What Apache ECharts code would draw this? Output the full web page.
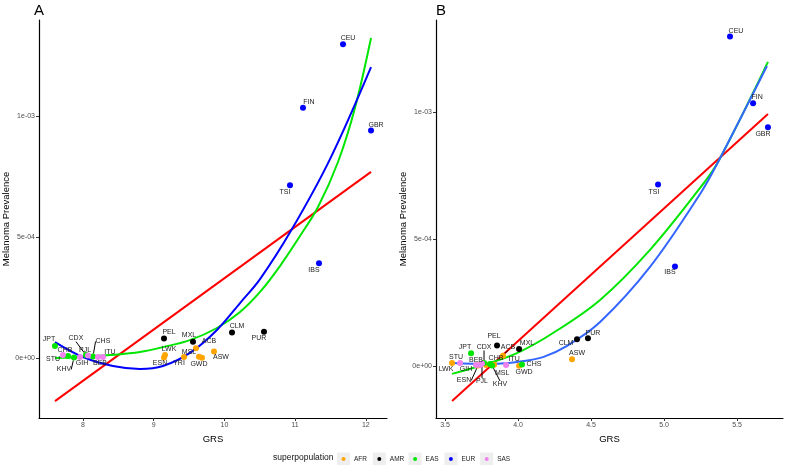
<!DOCTYPE html>
<html><head><meta charset="utf-8">
<script src="https://cdn.jsdelivr.net/npm/echarts@6/dist/echarts.min.js"></script>
<style>html,body{margin:0;padding:0;background:#fff}#c{width:787px;height:465px}</style>
</head><body><div id="c"></div>
<script>
// ---------- DATA ----------
const populations = ['ACB','ASW','ESN','GWD','LWK','MSL','YRI','CLM','MXL','PEL','PUR','CDX','CHB','CHS','JPT','KHV','CEU','FIN','GBR','IBS','TSI','BEB','GIH','ITU','PJL','STU'];
const superpop    = ['AFR','AFR','AFR','AFR','AFR','AFR','AFR','AMR','AMR','AMR','AMR','EAS','EAS','EAS','EAS','EAS','EUR','EUR','EUR','EUR','EUR','SAS','SAS','SAS','SAS','SAS'];
const prevalence  = [0.000040,0.000027,0.000002,0.000001,0.000012,0.000005,0.000004,0.000105,0.000067,0.000081,0.000109,0.000012,0.000008,0.000006,0.000050,0.000002,0.001297,0.001034,0.000940,0.000392,0.000714,0.000004,0.000004,0.000004,0.000010,0.000012];
const grsPanelA   = [9.598,9.853,9.146,9.683,9.160,9.641,9.429,10.108,9.556,9.146,10.560,8.042,7.788,8.141,7.604,7.873,11.678,11.112,12.074,11.338,10.928,8.212,7.958,8.283,8.071,7.717];
const grsPanelB   = [3.897,4.370,3.726,4.007,3.548,3.836,3.781,4.404,4.007,3.856,4.479,3.767,3.808,4.027,3.678,3.822,5.452,5.610,5.712,5.075,4.959,3.712,3.740,3.918,3.753,3.603];

const superCategories = ['AFR','AMR','EAS','EUR','SAS'];

// fitted curves
const fitA_linear_x = [7.604, 12.074];
const fitA_linear_y = [-0.000178, 0.000769];
const fitA_green_x = [7.604,8.0,8.382,8.806,9.132,9.513,9.895,10.221,10.504,10.786,11.069,11.324,11.607,11.847,12.074];
const fitA_green_y = [0.000000,0.000004,0.000012,0.000025,0.000045,0.000074,0.000124,0.000190,0.000273,0.000380,0.000504,0.000624,0.000810,0.001033,0.001322];
const fitA_blue_x = [7.604,8.0,8.424,8.806,9.132,9.513,9.895,10.221,10.504,10.956,11.494,12.074];
const fitA_blue_y = [0.000066,0.000004,-0.000033,-0.000045,-0.000033,0.000021,0.000116,0.000227,0.000326,0.000533,0.000822,0.001202];

const fitB_linear_x = [3.548, 5.712];
const fitB_linear_y = [-0.000138, 0.000992];
const fitB_green_x = [3.548,3.760,3.993,4.240,4.562,4.904,5.247,5.370,5.712];
const fitB_green_y = [-0.000031,0.000004,0.000051,0.000130,0.000260,0.000457,0.000701,0.000803,0.001197];
const fitB_blue_x = [3.548,3.788,3.993,4.171,4.336,4.562,4.904,5.247,5.363,5.705];
const fitB_blue_y = [0.000012,0.000008,0.000016,0.000035,0.000079,0.000173,0.000390,0.000677,0.000795,0.001181];

const xTicksA = [8,9,10,11,12];
const xTickLabelsA = ['8','9','10','11','12'];
const xTicksB = [3.5,4.0,4.5,5.0,5.5];
const xTickLabelsB = ['3.5','4.0','4.5','5.0','5.5'];
const yTicks = [0, 0.0005, 0.001];
const yTickLabels = ['0e+00','5e-04','1e-03'];

// ---------- STYLE ----------
const FONT = '"Liberation Sans", Arial, sans-serif';
const superColors = {AFR:'#FFA500', AMR:'#000000', EAS:'#00E600', EUR:'#0000FF', SAS:'#EE82EE'};
// label offsets (px from point centre to label centre); true = leader line
const labelOffA = {CEU:[5,-6],FIN:[6,-6],GBR:[5,-5],TSI:[-5,7],IBS:[-5,7],CLM:[5,-7],PUR:[-5,6],PEL:[5,-6],MXL:[-4,-7],ACB:[13,-7],ASW:[7,6],LWK:[4,-6],ESN:[-4,6],YRI:[-5,6],MSL:[-10,-5],GWD:[-3,6],JPT:[-6,-7],STU:[-10,4],CHB:[-3,-6],KHV:[-10,12,true],GIH:[2,6],CDX:[-10,-17,true],PJL:[-3,-6],CHS:[10,-15,true],ITU:[7,-5],BEB:[2,6]};
const labelOffB = {CEU:[6,-5],FIN:[4,-6],GBR:[-5,7],TSI:[-4,7],IBS:[-5,6],CLM:[-11,4],PUR:[5,-5],ASW:[5,-6],PEL:[-3,-9],MXL:[8,-6],ACB:[5,-9,true],JPT:[-6,-6],CDX:[0,-16,true],STU:[-4,-6],BEB:[0,-5],LWK:[-6,6],GIH:[-14,4],CHB:[6,-6],ITU:[8,-6],CHS:[12,0],GWD:[5,6],MSL:[8,8],ESN:[-14,15,true],PJL:[0,18,true],KHV:[8,19,true]};

function pairs(xs, ys){ return xs.map((x,i)=>[x, ys[i]]); }

function scatterSeries(panel, grs, offs){
  return superCategories.map(sp => {
    const idx = populations.map((p,i)=>i).filter(i => superpop[i]===sp);
    const names = idx.map(i => populations[i]);
    const data = idx.map(i => {
      const o = offs[populations[i]];
      const item = {name: populations[i], value: [grs[i], prevalence[i]]};
      if (!o) item.label = {show:false};
      if (o && o[2]) item.labelLine = {show:true, lineStyle:{color:'#000', width:1}};
      return item;
    });
    return {
      type:'scatter', name: sp, xAxisIndex: panel, yAxisIndex: panel, z: 5,
      symbolSize: 6, itemStyle:{color: superColors[sp], opacity:1},
      label:{show:true, formatter:'{b}', position:'inside', fontSize:7, color:'#222', fontFamily: FONT},
      labelLine:{show:false, smooth:false, length2:0, minTurnAngle:0, lineStyle:{color:'#000',width:1}},
      labelLayout: function(p){ const o = offs[names[p.dataIndex]]; return o ? {dx:o[0], dy:o[1]} : {}; },
      data: data, silent:true
    };
  });
}
function lineSeries(panel, xs, ys, color){
  return {type:'line', xAxisIndex:panel, yAxisIndex:panel, data: pairs(xs,ys), showSymbol:false, smooth:0.35,
    lineStyle:{color:color, width:2}, z:3, silent:true};
}

function xAxisCfg(panel, min, max, ticks, labels){
  return {type:'value', gridIndex:panel, min:min, max:max, name:'GRS', nameLocation:'middle', nameGap:16,
    nameTextStyle:{fontSize:9.5, color:'#000', fontFamily:FONT},
    axisLine:{onZero:false, lineStyle:{color:'#000', width:1.2}},
    axisTick:{customValues:ticks, length:3, lineStyle:{color:'#333'}},
    axisLabel:{customValues:ticks, formatter:v=>labels[ticks.indexOf(v)] ?? '', fontSize:7, color:'#4d4d4d', margin:4, fontFamily:FONT},
    splitLine:{show:false}};
}
function yAxisCfg(panel, min, max){
  return {type:'value', gridIndex:panel, min:min, max:max, name:'Melanoma Prevalence', nameLocation:'middle', nameGap:22,
    nameTextStyle:{fontSize:9.5, color:'#000', fontFamily:FONT},
    axisLine:{onZero:false, lineStyle:{color:'#000', width:1.2}},
    axisTick:{customValues:yTicks, length:3, lineStyle:{color:'#333'}},
    axisLabel:{customValues:yTicks, formatter:v=>{const k=yTicks.findIndex(t=>Math.abs(t-v)<1e-9); return k>=0?yTickLabels[k]:'';}, fontSize:7, color:'#4d4d4d', margin:4, fontFamily:FONT},
    splitLine:{show:false}};
}

// legend drawn as graphics
const legendEls = [{type:'text', left:273, top:453, style:{text:'superpopulation', fontSize:8.5, fill:'#111', fontFamily:FONT}}];
superCategories.forEach((sp,i)=>{
  const x0 = 337 + i*35.8;
  legendEls.push({type:'rect', shape:{x:x0, y:452.5, width:13, height:13}, style:{fill:'#eeeeee'}});
  legendEls.push({type:'circle', shape:{cx:x0+6.5, cy:459, r:2}, style:{fill:superColors[sp]}});
  legendEls.push({type:'text', x:x0+17, y:459, style:{text:sp, fontSize:6.5, fill:'#222', fontFamily:FONT, verticalAlign:'middle'}});
});

const chart = echarts.init(document.getElementById('c'), null, {renderer:'canvas'});
chart.setOption({
  animation:false,
  backgroundColor:'#fff',
  title:[
    {text:'A', left:29, top:-2, textStyle:{fontSize:15, fontWeight:'normal', color:'#000', fontFamily:FONT}},
    {text:'B', left:431, top:-2, textStyle:{fontSize:15, fontWeight:'normal', color:'#000', fontFamily:FONT}}
  ],
  grid:[
    {left:39, top:20, width:348, height:398},
    {left:436, top:20, width:347, height:398}
  ],
  xAxis:[ xAxisCfg(0, 7.378, 12.30, xTicksA, xTickLabelsA), xAxisCfg(1, 3.438, 5.815, xTicksB, xTickLabelsB) ],
  yAxis:[ yAxisCfg(0, -0.0002479, 0.0013967), yAxisCfg(1, -0.0002047, 0.001362) ],
  series:[
    lineSeries(0, fitA_linear_x, fitA_linear_y, '#FF0000'),
    lineSeries(0, fitA_green_x, fitA_green_y, '#00E600'),
    lineSeries(0, fitA_blue_x, fitA_blue_y, '#0000FF'),
    lineSeries(1, fitB_linear_x, fitB_linear_y, '#FF0000'),
    lineSeries(1, fitB_green_x, fitB_green_y, '#00E600'),
    lineSeries(1, fitB_blue_x, fitB_blue_y, '#3366FF'),
    ...scatterSeries(0, grsPanelA, labelOffA),
    ...scatterSeries(1, grsPanelB, labelOffB)
  ],
  graphic: legendEls
});
</script>
</body></html>
